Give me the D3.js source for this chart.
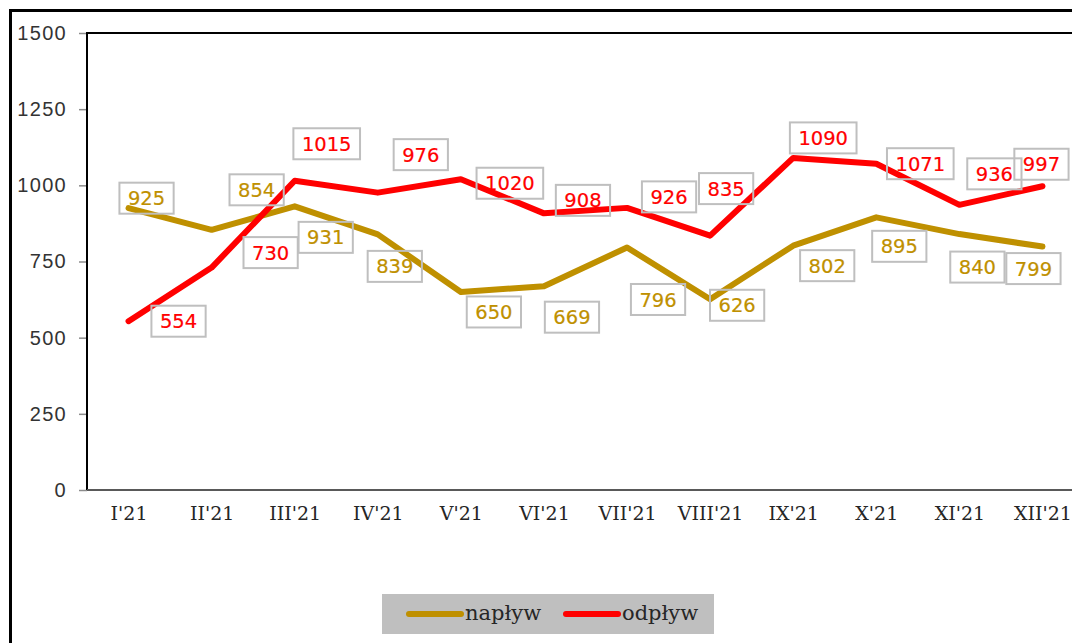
<!DOCTYPE html>
<meta charset='utf-8'>
<head>
  <title>Napływ i odpływ</title>
</head>

<style>
body {
  margin: 0;
  background: #fff;
}

.frame {
  fill: none;
  stroke: #000;
  stroke-width: 3;
}

.y-axis text {
  font-family: "Liberation Sans", Arial, sans-serif;
  font-size: 20px;
  letter-spacing: 1.3px;
  fill: #333;
}

.y-axis line {
  stroke: #8c8c8c;
  stroke-width: 1.5;
}

.x-axis text {
  font-family: "DejaVu Serif", serif;
  font-size: 19px;
  fill: #262626;
}

.series {
  fill: none;
  stroke-width: 6;
  stroke-linecap: round;
  stroke-linejoin: round;
}

.label rect {
  fill: none;
  stroke: #bfbfbf;
  stroke-width: 2;
}

.label text {
  font-family: "DejaVu Sans", Verdana, sans-serif;
  font-size: 19.5px;
  stroke-width: 0.2;
}

.legend text {
  font-family: "DejaVu Serif", serif;
  font-size: 21px;
  fill: #262626;
}
</style>

<body>
  <svg width='1072' height='643'></svg>

  <script src='https://cdn.jsdelivr.net/npm/d3@7'></script>
  <script>
var months = ["I'21", "II'21", "III'21", "IV'21", "V'21", "VI'21", "VII'21", "VIII'21", "IX'21", "X'21", "XI'21", "XII'21"];
var naplyw = [925, 854, 931, 839, 650, 669, 796, 626, 802, 895, 840, 799];
var odplyw = [554, 730, 1015, 976, 1020, 908, 926, 835, 1090, 1071, 936, 997];
var yTicks = [0, 250, 500, 750, 1000, 1250, 1500];

// label offsets from the point, as Excel left them
var naplywDx = [18, 45, 31, 17, 33, 28, 31, 27, 34, 23, 18, -9];
var naplywDy = [-10, -40, 31, 32, 20, 31, 52, 6, 20, 29, 33, 22];
var odplywDx = [50, 59, 32, 43, 49, 39, 42, 16, 30, 44, 35, -1];
var odplywDy = [0, -15, -37, -38, 4, -13, -11, -47, -20, 0, -31, -22];

var gold = '#bf9000', red = '#ff0000';
var plotLeft = 87, plotTop = 33, plotRight = 1084, plotBottom = 490;

var svg = d3.select('svg');

var x = d3.scalePoint()
  .domain(months)
  .range([plotLeft, plotRight])
  .padding(0.5);

var y = d3.scaleLinear()
  .domain([0, 1500])
  .range([plotBottom, plotTop]);

// outer chart frame (right and bottom edges fall outside the picture)
svg.append('rect')
  .attr('class', 'frame')
  .attr('x', 10.5)
  .attr('y', 10.5)
  .attr('width', 1100)
  .attr('height', 700);

// y axis labels and ticks
var yAxis = svg.append('g')
  .attr('class', 'y-axis')
  .attr('transform', 'translate(' + plotLeft + ',0)')
  .call(d3.axisLeft(y).tickValues(yTicks).tickFormat(d3.format('d')).tickSize(8).tickPadding(12));
yAxis.select('.domain').remove();

// plot frame: left and top black, bottom dark grey
svg.append('path')
  .attr('d', 'M' + plotLeft + ',' + plotBottom + 'V' + plotTop + 'H' + plotRight)
  .attr('fill', 'none')
  .attr('stroke', '#000')
  .attr('stroke-width', 2);

svg.append('line')
  .attr('x1', plotLeft).attr('x2', plotRight)
  .attr('y1', plotBottom).attr('y2', plotBottom)
  .attr('stroke', '#595959')
  .attr('stroke-width', 2);

var xAxis = svg.append('g')
  .attr('class', 'x-axis')
  .attr('transform', 'translate(0,' + plotBottom + ')')
  .call(d3.axisBottom(x).tickSize(0).tickPadding(17));
xAxis.select('.domain').remove();

var line = d3.line()
  .x(function(d, i) { return x(months[i]); })
  .y(function(d) { return y(d); });

svg.append('path')
  .attr('class', 'series')
  .attr('stroke', gold)
  .attr('d', line(naplyw));

svg.append('path')
  .attr('class', 'series')
  .attr('stroke', red)
  .attr('d', line(odplyw));

function labels(values, dx, dy, color) {
  var g = svg.append('g')
    .selectAll('g')
    .data(values)
    .enter()
    .append('g')
    .attr('class', 'label')
    .attr('transform', function(d, i) {
      return 'translate(' + (x(months[i]) + dx[i]) + ',' + (y(d) + dy[i]) + ')';
    });

  g.append('text')
    .attr('text-anchor', 'middle')
    .attr('dy', '0.36em')
    .attr('fill', color)
    .attr('stroke', color)
    .text(function(d) { return d; });

  g.insert('rect', 'text')
    .each(function() {
      var w = this.parentNode.querySelector('text').getComputedTextLength() + 17;
      d3.select(this)
        .attr('x', -w / 2)
        .attr('y', -15.5)
        .attr('width', w)
        .attr('height', 31);
    });
}

labels(naplyw, naplywDx, naplywDy, gold);
labels(odplyw, odplywDx, odplywDy, red);

// legend
var legend = svg.append('g').attr('class', 'legend');

legend.append('rect')
  .attr('x', 382).attr('y', 594)
  .attr('width', 332).attr('height', 40)
  .attr('fill', '#bfbfbf');

var items = [
  {name: 'napływ', color: gold, x: 407},
  {name: 'odpływ', color: red, x: 564}
];

var item = legend.selectAll('g')
  .data(items)
  .enter()
  .append('g')
  .attr('transform', function(d) { return 'translate(' + d.x + ',614)'; });

item.append('line')
  .attr('x1', 2).attr('x2', 54)
  .attr('stroke', function(d) { return d.color; })
  .attr('stroke-width', 6)
  .attr('stroke-linecap', 'round');

item.append('text')
  .attr('x', 58)
  .attr('dy', '0.3em')
  .text(function(d) { return d.name; });
  </script>
</body>
</html>
